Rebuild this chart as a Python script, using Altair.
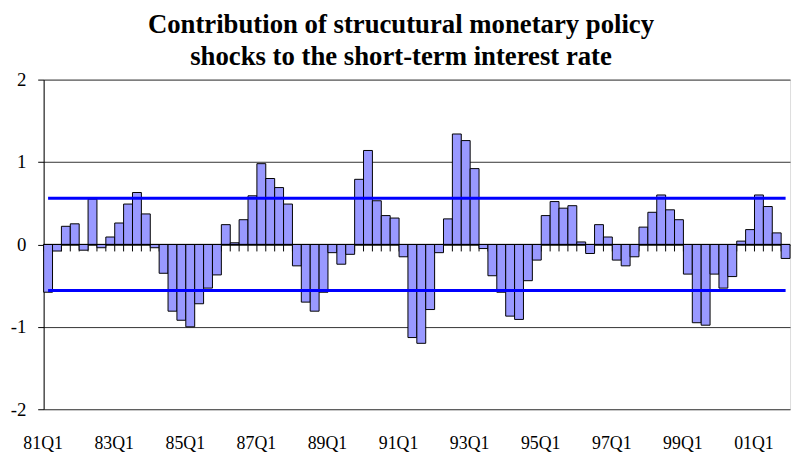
import altair as alt
import pandas as pd

# ---- data ----
year_labels = ["81", "82", "83", "84", "85", "86", "87", "88", "89", "90",
               "91", "92", "93", "94", "95", "96", "97", "98", "99", "00", "01"]
quarters = ["Q1", "Q2", "Q3", "Q4"]
periods = [y + q for y in year_labels for q in quarters]

values = [
    -0.58, -0.08, 0.22, 0.25, -0.07, 0.55, -0.04, 0.09, 0.26, 0.49, 0.63, 0.37, -0.04, -0.35,
    -0.81, -0.92, -1.00, -0.72, -0.53, -0.37, 0.24, 0.02, 0.30, 0.59, 0.98, 0.80, 0.69, 0.49,
    -0.26, -0.70, -0.81,
    -0.58, -0.10, -0.24, -0.12, 0.79, 1.14, 0.53, 0.35, 0.32, -0.15, -1.13, -1.20, -0.79,
    -0.10, 0.31, 1.34, 1.26, 0.92, -0.05,
    -0.38, -0.58, -0.87, -0.91, -0.44, -0.19, 0.35, 0.52, 0.44, 0.47, 0.03, -0.11, 0.24, 0.09,
    -0.19, -0.26, -0.15, 0.21,
    0.39, 0.60, 0.42, 0.30, -0.36, -0.95, -0.98, -0.36, -0.53, -0.39, 0.04, 0.18, 0.60, 0.46,
    0.14, -0.17,
]

label_periods = ["81Q1", "83Q1", "85Q1", "87Q1", "89Q1", "91Q1",
                 "93Q1", "95Q1", "97Q1", "99Q1", "01Q1"]
y_ticks = [-2, -1, 0, 1, 2]
band_levels = [0.56, -0.56]
title_lines = ["Contribution of strucutural monetary policy",
               "shocks to the short-term interest rate"]

FONT = "Liberation Serif"

df = pd.DataFrame({"period": periods, "value": values})
band_df = pd.DataFrame({"start": [periods[0]] * len(band_levels),
                        "end": [periods[-1]] * len(band_levels),
                        "level": band_levels})
tick_df = pd.DataFrame({"period": periods, "zero": [0.0] * len(periods),
                        "drop": [-0.085] * len(periods)})
zero_df = pd.DataFrame({"zero": [0.0]})

x_scale = alt.Scale(domain=periods, paddingInner=0, paddingOuter=0)
y_scale = alt.Scale(domain=[-2, 2], nice=False, zero=False)

x_axis = alt.Axis(values=label_periods, labelAngle=0, ticks=False, domain=False,
                  grid=False, title=None, labelFont=FONT, labelFontSize=18,
                  labelColor="black", labelPadding=26, labelOffset=-5)
y_axis = alt.Axis(values=y_ticks, labelExpr="'' + datum.value", grid=True,
                  gridColor="#333333", gridWidth=1, tickColor="black", tickSize=6,
                  domainColor="black", labelFont=FONT, labelFontSize=19,
                  labelColor="black", labelPadding=12, title=None)

ticks = alt.Chart(tick_df).mark_rule(color="black", strokeWidth=1).encode(
    x=alt.X("period:N", scale=x_scale, axis=x_axis, sort=periods, bandPosition=0),
    y=alt.Y("zero:Q", scale=y_scale, axis=y_axis),
    y2="drop:Q",
)

bars = alt.Chart(df).mark_bar(color="#9999FF", stroke="black", strokeWidth=1).encode(
    x=alt.X("period:N", scale=x_scale, axis=x_axis, sort=periods),
    y=alt.Y("value:Q", scale=y_scale, axis=y_axis),
)

zero_line = alt.Chart(zero_df).mark_rule(color="black", strokeWidth=1).encode(
    y=alt.Y("zero:Q", scale=y_scale, axis=y_axis),
)

bands = alt.Chart(band_df).mark_rule(color="#0000FF", strokeWidth=3).encode(
    x=alt.X("start:N", scale=x_scale, axis=x_axis, sort=periods, bandPosition=0.5),
    x2=alt.X2("end:N", bandPosition=0.5),
    y=alt.Y("level:Q", scale=y_scale, axis=y_axis),
)

chart = alt.layer(ticks, bars, zero_line, bands).properties(
    width=754,
    height=333,
    autosize=alt.AutoSizeParams(type="none"),
    padding={"left": 36, "top": 70, "right": 4, "bottom": 56},
    title=alt.TitleParams(text=title_lines, font=FONT, fontSize=27, fontWeight="bold",
                          color="black", anchor="middle", lineHeight=32, offset=0,
                          dx=-16),
).configure_view(stroke="#808080", strokeWidth=1).configure(background="white")

chart.save("out.html", embed_options={"renderer": "svg", "actions": False})
